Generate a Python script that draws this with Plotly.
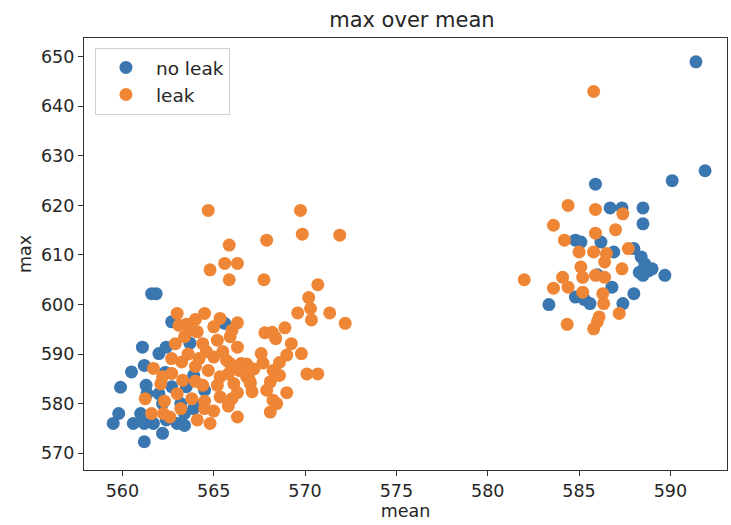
import plotly.graph_objects as go

# ---- data: "no leak" (mean, max) ----
noleak_mean = [561.6, 561.85, 562.7, 561.1, 562.0, 562.4, 560.5, 561.2, 559.9, 561.3,
               559.8, 559.5, 560.6, 561.0, 561.2, 561.35, 562.0, 562.2, 561.2, 562.2,
               561.7, 563.0, 562.4, 563.2, 562.7, 563.5, 563.4, 562.35, 564.5, 564.0,
               563.4, 563.7, 563.9, 565.6, 563.9,
               591.4, 591.9, 590.1, 585.9, 586.7, 587.35, 588.5, 588.5, 584.8, 585.1,
               586.2, 586.9, 588.0, 588.4, 588.6, 589.0, 588.5, 589.7, 588.3, 588.8,
               586.8, 588.0, 584.8, 583.35, 585.6, 587.4, 585.3, 586.0]
noleak_max = [602.2, 602.2, 596.5, 591.4, 590.1, 591.4, 586.4, 587.7, 583.3, 583.7,
              578.0, 576.0, 576.0, 578.0, 576.0, 582.0, 582.0, 580.0, 572.3, 574.0,
              576.0, 576.0, 576.7, 580.0, 583.4, 583.4, 578.0, 586.3, 582.7, 579.7,
              575.6, 592.2, 585.7, 596.2, 579.0,
              649.0, 627.0, 625.0, 624.3, 619.5, 619.5, 619.5, 616.3, 613.0, 612.6,
              612.6, 610.6, 611.3, 609.6, 608.2, 607.2, 605.9, 605.9, 606.5, 606.8,
              603.5, 602.2, 601.5, 600.0, 600.2, 600.2, 601.0, 606.0]

# ---- data: "leak" (mean, max) ----
leak_mean = [564.7, 569.75, 569.85, 571.9, 565.85, 567.9, 564.8, 565.6, 566.3, 565.85,
             567.75, 570.7, 570.2, 570.3, 569.6, 570.35, 571.35, 572.2, 564.5, 565.35,
             566.3, 568.9, 567.8, 568.2, 568.35, 568.4, 569.25, 569.8, 569.0, 567.6,
             567.7, 568.6, 570.1, 570.7, 568.25, 568.4, 568.6, 568.1, 567.9, 569.0,
             568.45, 568.25, 568.1, 567.1, 566.3, 566.9, 566.5, 565.9,
             564.1, 564.4, 565.2, 565.9, 566.3, 564.2, 565.0, 565.7, 564.7, 565.35,
             566.1, 566.4, 566.8, 567.0, 564.4, 565.2, 566.1, 567.0, 564.8, 566.3,
             564.1, 564.5, 565.35, 561.25, 561.6, 562.25, 562.6, 562.1, 563.0, 563.0,
             563.1, 562.9, 563.4, 562.7, 563.25, 561.7, 562.2, 562.7, 563.3, 563.5,
             564.0, 563.7, 564.6, 565.0, 566.0, 564.0, 565.5, 563.8, 564.5, 565.0,
             565.8, 566.0, 564.0, 565.8, 563.6, 566.8, 567.2, 562.3, 563.2,
             585.8, 584.4, 585.9, 587.4, 583.6, 587.0, 585.9, 584.2, 585.0, 585.8,
             586.5, 587.7, 586.4, 585.1, 587.35, 585.9, 586.4, 585.2, 584.1, 582.0,
             583.6, 584.4, 585.2, 586.3, 586.35, 587.2, 586.1, 584.35, 585.8, 586.0]
leak_max = [619.0, 619.0, 614.2, 614.0, 612.0, 613.0, 607.0, 608.3, 608.3, 605.0,
            605.0, 604.0, 601.4, 599.2, 598.3, 596.9, 598.3, 596.2, 598.2, 597.2,
            596.3, 595.3, 594.3, 594.4, 593.5, 593.1, 592.1, 590.1, 589.8, 590.1,
            588.2, 588.3, 586.0, 586.0, 586.7, 586.1, 585.7, 584.4, 582.7, 582.2,
            580.0, 580.7, 578.3, 582.4, 582.2, 585.4, 588.1, 588.1,
            594.5, 592.1, 592.8, 593.5, 591.4, 589.1, 589.4, 588.75, 586.7, 585.4,
            587.4, 586.7, 585.4, 584.05, 583.7, 583.7, 584.05, 584.4, 576.0, 577.3,
            576.7, 579.0, 581.35, 581.0, 578.0, 578.0, 577.3, 584.0, 582.0, 598.2,
            595.8, 592.1, 593.5, 589.1, 588.4, 587.1, 585.4, 586.1, 584.7, 596.0,
            597.0, 594.8, 590.5, 595.5, 594.8, 587.5, 590.5, 581.0, 580.5, 578.5,
            579.5, 581.0, 584.5, 586.0, 590.0, 588.0, 587.0, 580.5, 579.0,
            643.0, 620.0, 619.2, 618.3, 616.0, 615.1, 614.4, 613.0, 610.6, 610.6,
            610.3, 611.3, 608.6, 607.6, 607.2, 605.9, 605.5, 605.5, 605.5, 605.0,
            603.3, 603.5, 602.5, 602.2, 600.2, 598.2, 597.5, 596.0, 595.1, 596.5]

x_ticks = [560, 565, 570, 575, 580, 585, 590]
y_ticks = [570, 580, 590, 600, 610, 620, 630, 640, 650]

BLUE = "#3a76af"
ORANGE = "#ef8636"
FONT = "DejaVu Sans"
TXT = "#262626"

fig = go.Figure()
fig.add_trace(go.Scatter(x=noleak_mean, y=noleak_max, mode="markers", name="no leak",
                         marker=dict(color=BLUE, size=13, line=dict(width=0))))
fig.add_trace(go.Scatter(x=leak_mean, y=leak_max, mode="markers", name="leak",
                         marker=dict(color=ORANGE, size=13, line=dict(width=0))))

axis_common = dict(showline=True, linecolor="#333", linewidth=1.2, mirror=True,
                   ticks="outside", ticklen=5, tickcolor="#333", showgrid=False,
                   zeroline=False, automargin=False,
                   tickfont=dict(family=FONT, size=17.5, color=TXT))

fig.update_layout(
    width=731, height=525,
    margin=dict(l=84, r=4, t=38, b=55),
    paper_bgcolor="white", plot_bgcolor="white",
    title=dict(text="max over mean", xref="paper", x=0.51, xanchor="center",
               y=0.962, yanchor="middle",
               font=dict(family=FONT, size=21, color=TXT)),
    xaxis=dict(range=[557.9, 593.1], tickvals=x_ticks,
               title=dict(text="mean", font=dict(family=FONT, size=17.5, color=TXT), standoff=4),
               **axis_common),
    yaxis=dict(range=[566.6, 653.8], tickvals=y_ticks,
               title=dict(text="max", font=dict(family=FONT, size=17.5, color=TXT), standoff=4),
               **axis_common),
    legend=dict(x=0.017, y=0.977, xanchor="left", yanchor="top",
                bgcolor="white", bordercolor="#d0d0d0", borderwidth=1,
                font=dict(family=FONT, size=18.5, color=TXT),
                itemwidth=50, tracegroupgap=8),
    showlegend=True,
)

fig.write_html("out.html",
               config={"displayModeBar": False},
               post_script="document.body.style.margin='0';document.body.style.overflow='hidden';")
